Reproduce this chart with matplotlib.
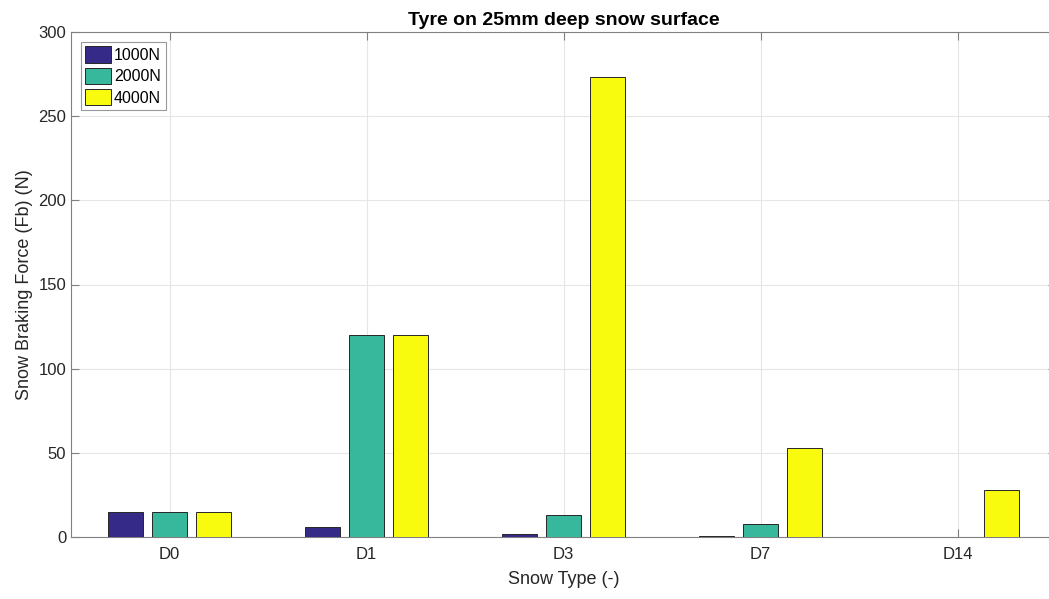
import numpy as np
import matplotlib.pyplot as plt

categories = ['D0', 'D1', 'D3', 'D7', 'D14']
series_names = ['1000N', '2000N', '4000N']
f_1000 = [15, 6, 1.5, 0.5, 0]
f_2000 = [15, 120, 13, 8, 0]
f_4000 = [15, 120, 273, 53, 28]
colors = ['#352a87', '#37b89d', '#f9fb0e']

plt.rcParams['font.family'] = ['Liberation Sans', 'DejaVu Sans']

fig = plt.figure(figsize=(10.49, 5.99), dpi=100)
# axes box runs past the right edge of the picture, as in the reference crop
ax = fig.add_axes([71 / 1049, 62 / 599, 985 / 1049, 505 / 599])

x = np.arange(1, len(categories) + 1)
w = 0.178
offs = [-0.221, 0, 0.221]
for vals, name, c, o in zip([f_1000, f_2000, f_4000], series_names, colors, offs):
    ax.bar(x + o, vals, w, color=c, edgecolor='#262626', linewidth=0.7, label=name, zorder=3)

ax.set_xlim(0.5, 5.5)
ax.set_ylim(0, 300)
ax.set_xticks(x)
ax.set_xticklabels(categories)
ax.set_yticks(np.arange(0, 301, 50))
ax.grid(True, color='#e6e6e6', linewidth=0.8, zorder=0)
ax.set_axisbelow(True)
for s in ax.spines.values():
    s.set_color('#808080')
    s.set_linewidth(0.8)
ax.tick_params(labelsize=12, direction='in', length=6, width=0.8, color='#808080',
               labelcolor='#262626', top=True, right=True)
ax.tick_params(axis='x', pad=7)

ax.set_xlabel('Snow Type (-)', fontsize=13, color='#262626', labelpad=7)
ax.set_ylabel('Snow Braking Force (Fb) (N)', fontsize=13, color='#262626')
ax.set_title('Tyre on 25mm deep snow surface', fontsize=14, fontweight='bold', color='black', pad=5)

leg = ax.legend(loc='upper left', fontsize=11.5, frameon=True, fancybox=False,
                edgecolor='#808080', handlelength=1.6, handleheight=1.2,
                handletextpad=0.2, borderpad=0.3, labelspacing=0.3, borderaxespad=0.6)
leg.get_frame().set_linewidth(0.8)

fig.savefig('out.png', dpi=100)
